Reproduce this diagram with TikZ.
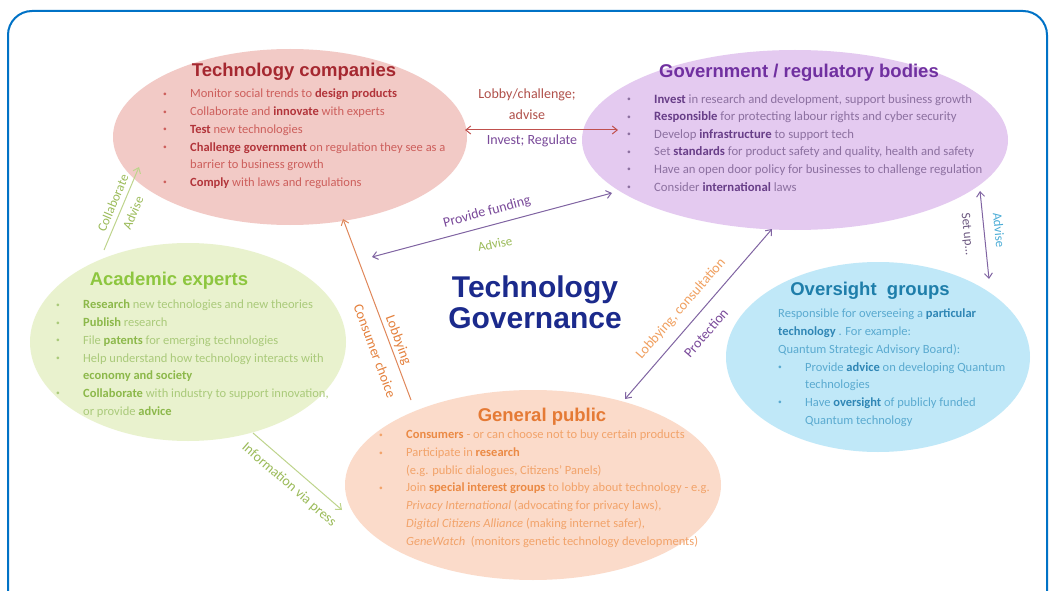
\documentclass[tikz,border=0pt]{standalone}
\usepackage{fontspec}
\setmainfont{Carlito}
\newfontfamily\titlefont{Liberation Sans}
\usetikzlibrary{shapes.geometric,arrows.meta}

\definecolor{frameblue}{RGB}{0,114,198}
\definecolor{techfill}{RGB}{242,202,198}
\definecolor{govfill}{RGB}{228,202,240}
\definecolor{acadfill}{RGB}{233,242,206}
\definecolor{overfill}{RGB}{192,232,248}
\definecolor{pubfill}{RGB}{251,219,202}
\definecolor{techttl}{RGB}{165,40,48}
\definecolor{techtxt}{RGB}{205,95,92}
\definecolor{techbold}{RGB}{178,52,58}
\definecolor{govttl}{RGB}{112,48,160}
\definecolor{govtxt}{RGB}{140,112,160}
\definecolor{govbold}{RGB}{104,62,136}
\definecolor{acadttl}{RGB}{141,198,63}
\definecolor{acadtxt}{RGB}{170,202,122}
\definecolor{acadbold}{RGB}{140,184,74}
\definecolor{overttl}{RGB}{30,126,170}
\definecolor{overtxt}{RGB}{90,170,208}
\definecolor{overbold}{RGB}{47,134,181}
\definecolor{pubttl}{RGB}{229,122,53}
\definecolor{pubtxt}{RGB}{242,163,106}
\definecolor{pubbold}{RGB}{235,138,69}
\definecolor{navy}{RGB}{27,42,140}
\definecolor{redarrow}{RGB}{192,80,77}
\definecolor{redlab}{RGB}{176,80,74}
\definecolor{purarrow}{RGB}{128,100,162}
\definecolor{purlab}{RGB}{122,74,154}
\definecolor{orarrow}{RGB}{224,135,90}
\definecolor{orlab}{RGB}{228,128,60}
\definecolor{orlight}{RGB}{240,160,96}
\definecolor{grnlab}{RGB}{155,187,89}
\definecolor{grnarrow}{RGB}{190,212,140}
\definecolor{bluelab}{RGB}{74,172,214}
\definecolor{setuplab}{RGB}{110,90,130}

\newcommand\bul{\makebox[27pt][l]{\raisebox{1.5pt}{\scalebox{0.6}{\textbullet}}}}
\newcommand\ind{\hspace*{27pt}}
\newcommand\tb[1]{{\bfseries\color{techbold}#1}}
\newcommand\gbf[1]{{\bfseries\color{govbold}#1}}
\newcommand\abf[1]{{\bfseries\color{acadbold}#1}}
\newcommand\obf[1]{{\bfseries\color{overbold}#1}}
\newcommand\pbf[1]{{\bfseries\color{pubbold}#1}}

\tikzset{
  blob/.style={ellipse, inner sep=0pt, draw=none},
  body/.style={anchor=north west, inner sep=0pt, align=left, font=\fontsize{12.5}{17.7}\selectfont},
  ttl/.style={inner sep=0pt, font=\titlefont\bfseries\fontsize{18.5}{22}\selectfont},
  lab/.style={inner sep=0pt, font=\fontsize{14}{17}\selectfont},
  conn/.style={line width=1pt, -{Straight Barb[length=5pt,width=8pt]}},
  dconn/.style={line width=1pt, {Straight Barb[length=5pt,width=8pt]}-{Straight Barb[length=5pt,width=8pt]}},
}

\begin{document}
\begin{tikzpicture}[x=1pt,y=-1pt]
\useasboundingbox (0,0) rectangle (1053,591);
\fill[white] (0,0) rectangle (1053,591);
\draw[frameblue, line width=2pt, rounded corners=24pt] (8,600) -- (8,11) -- (1047,11) -- (1047,600);

% ellipses
\node[blob, fill=techfill, minimum width=354pt, minimum height=176pt] (tech) at (290,137) {};
\node[blob, fill=govfill, minimum width=426pt, minimum height=180pt] (gov) at (795,140) {};
\node[blob, fill=acadfill, minimum width=316pt, minimum height=198pt] (acad) at (188,342) {};
\node[blob, fill=overfill, minimum width=304pt, minimum height=190pt] (over) at (878,357) {};
\node[blob, fill=pubfill, minimum width=376pt, minimum height=190pt] (pub) at (533,485) {};

% titles
\node[ttl, text=techttl] (techT) at (294,72) {Technology companies};
\node[ttl, text=govttl] (govT) at (799,73) {Government / regulatory bodies};
\node[ttl, text=acadttl] (acadT) at (169,281) {Academic experts};
\node[ttl, text=overttl] (overT) at (870,291) {Oversight\ \ groups};
\node[ttl, text=pubttl] (pubT) at (542,417) {General public};

% bodies
\node[body, text=techtxt] (techB) at (163,89) {%
\bul Monitor social trends to \tb{design products}\\
\bul Collaborate and \tb{innovate} with experts\\
\bul \tb{Test} new technologies\\
\bul \tb{Challenge government} on regulation they see as a\\
\ind barrier to business growth\\
\bul \tb{Comply} with laws and regulations};

\node[body, text=govtxt, font=\fontsize{12.7}{17.6}\selectfont] (govB) at (627,94) {%
\bul \gbf{Invest} in research and development, support business growth\\
\bul \gbf{Responsible} for protecting labour rights and cyber security\\
\bul Develop \gbf{infrastructure} to support tech\\
\bul Set \gbf{standards} for product safety and quality, health and safety\\
\bul Have an open door policy for businesses to challenge regulation\\
\bul Consider \gbf{international} laws};

\node[body, text=acadtxt] (acadB) at (56,300) {%
\bul \abf{Research} new technologies and new theories\\
\bul \abf{Publish} research\\
\bul File \abf{patents} for emerging technologies\\
\bul Help understand how technology interacts with\\
\ind \abf{economy and society}\\
\bul \abf{Collaborate} with industry to support innovation,\\
\ind or provide \abf{advice}};

\node[body, text=overtxt] (overB) at (778,309) {%
Responsible for overseeing a \obf{particular}\\
\obf{technology} . For example:\\
Quantum Strategic Advisory Board):\\
\bul Provide \obf{advice} on developing Quantum\\
\ind technologies\\
\bul Have \obf{oversight} of publicly funded\\
\ind Quantum technology};

\node[body, text=pubtxt] (pubB) at (379,430) {%
\bul \pbf{Consumers} - or can choose not to buy certain products\\
\bul Participate in \pbf{research}\\
\ind (e.g. public dialogues, Citizens’ Panels)\\
\bul Join \pbf{special interest groups} to lobby about technology - e.g.\\
\ind \textit{Privacy International} (advocating for privacy laws),\\
\ind \textit{Digital Citizens Alliance} (making internet safer),\\
\ind \textit{GeneWatch} \ (monitors genetic technology developments)};

% centre title
\node[inner sep=0pt, align=center, text=navy, font=\titlefont\bfseries\fontsize{30}{31}\selectfont] (center) at (535,302) {Technology\\Governance};

% connector end points
\coordinate (tgL) at (465,130);
\coordinate (tgR) at (618,130);
\coordinate (fuL) at (372,257);
\coordinate (fuR) at (612,193);
\coordinate (lbT) at (343,219);
\coordinate (lbB) at (411,400);
\coordinate (lcT) at (772,229);
\coordinate (lcB) at (625,399);
\coordinate (suT) at (980,191);
\coordinate (suB) at (989,279);
\coordinate (coT) at (139,167);
\coordinate (coB) at (104,250);
\coordinate (ipS) at (253,433);
\coordinate (ipE) at (342,510);

% connectors
\draw[dconn, redarrow] (tgL) -- (tgR);
\draw[dconn, purarrow] (fuL) -- (fuR);
\draw[conn, orarrow] (lbB) -- (lbT);
\draw[dconn, purarrow] (lcT) -- (lcB);
\draw[dconn, purarrow] (suT) -- (suB);
\draw[conn, grnarrow] (coB) -- (coT);
\draw[conn, grnarrow] (ipS) -- (ipE);

% labels
\node[lab, text=redlab, align=center, font=\fontsize{14}{21}\selectfont] (l1) at (527,104) {Lobby/challenge;\\advise};
\node[lab, text=purlab] (l2) at (532,141) {Invest; Regulate};
\node[lab, text=purlab, rotate=15] (l3) at (487,212) {Provide funding};
\node[lab, text=grnlab, rotate=12, font=\fontsize{13}{15}\selectfont] (l4) at (495,244) {Advise};
\node[lab, text=orlab, rotate=-69.5] (l5) at (398,340) {Lobbying};
\node[lab, text=orlab, rotate=-69.5] (l6) at (375,351) {Consumer choice};
\node[lab, text=orlight, rotate=49] (l7) at (681,309) {Lobbying, consultation};
\node[lab, text=purlab, rotate=49] (l8) at (706,333) {Protection};
\node[lab, text=setuplab, rotate=-84, font=\fontsize{13}{15}\selectfont] (l9) at (967,234) {Set up…};
\node[lab, text=bluelab, rotate=-84, font=\fontsize{13}{15}\selectfont] (l10) at (999,230) {Advise};
\node[lab, text=grnlab, rotate=67, font=\fontsize{13}{15}\selectfont] (l11) at (113,203) {Collaborate};
\node[lab, text=grnlab, rotate=67, font=\fontsize{13}{15}\selectfont] (l12) at (133,213) {Advise};
\node[lab, text=grnlab, rotate=-41] (l13) at (289,485) {Information via press};
\end{tikzpicture}
\end{document}
